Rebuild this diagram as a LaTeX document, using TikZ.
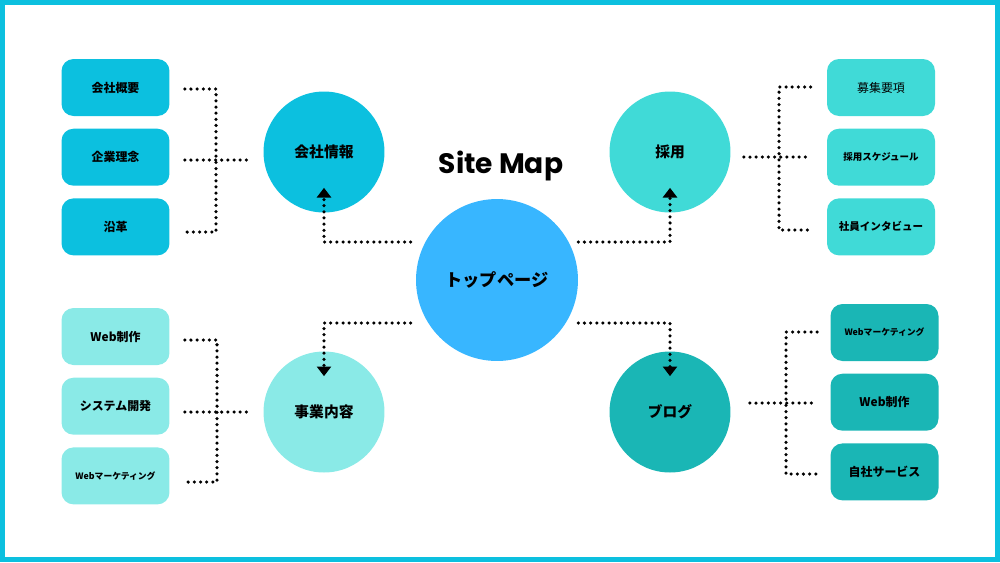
\documentclass[tikz,border=0pt]{standalone}
\usepackage{fontspec}
\setmainfont{Noto Sans CJK JP}
\newfontfamily\titlefont{Poppins}
\usetikzlibrary{arrows.meta,positioning,calc}
\definecolor{SkyBlue}{HTML}{38B6FF}
\definecolor{CyanBlue}{HTML}{0CC0DF}
\definecolor{Turquoise}{HTML}{40DAD7}
\definecolor{PaleAqua}{HTML}{8AEAE7}
\definecolor{DeepTeal}{HTML}{1AB6B5}

\begin{document}
\begin{tikzpicture}[x=0.02cm, y=-0.02cm,
  hub/.style={circle, fill=SkyBlue, minimum size=3.24cm, inner sep=0pt, font=\bfseries\fontsize{9.8}{11}\selectfont},
  topic/.style={circle, minimum size=2.42cm, inner sep=0pt, font=\bfseries\fontsize{8.4}{10}\selectfont},
  leaf/.style={rounded corners=0.24cm, minimum width=2.16cm, minimum height=1.14cm, inner sep=0pt, font=\bfseries\fontsize{6.8}{8}\selectfont},
  smallleaf/.style={font=\bfseries\fontsize{5}{6}\selectfont},
  dotline/.style={draw=black, line width=2pt, dash pattern=on 0pt off 3.5pt, line cap=round},
  arrow/.style={dotline, -{Triangle[width=8pt,length=5.5pt]}}
]
  \useasboundingbox (0,0) rectangle (1000,562);
  \draw[CyanBlue, line width=0.1cm] (2.5,2.5) rectangle (997.5,559.5);

  \node[font=\titlefont\bfseries\fontsize{16}{18}\selectfont] (title) at (501,166) {Site Map};

  \node[hub] (home) at (497,280) {トップページ};
  \node[topic, fill=CyanBlue] (info) at (324,152) {会社情報};
  \node[topic, fill=Turquoise] (recruit) at (670,152) {採用};
  \node[topic, fill=PaleAqua] (biz) at (324,412) {事業内容};
  \node[topic, fill=DeepTeal] (blog) at (670,412) {ブログ};

  \node[leaf, fill=CyanBlue] (info1) at (115.5,87.5) {会社概要};
  \node[leaf, fill=CyanBlue, below=0.24cm of info1] (info2) {企業理念};
  \node[leaf, fill=CyanBlue, below=0.24cm of info2] (info3) {沿革};

  \node[leaf, fill=Turquoise, font=\fontsize{6.8}{8}\selectfont] (rec1) at (881,87.5) {募集要項};
  \node[leaf, fill=Turquoise, below=0.24cm of rec1, font=\bfseries\fontsize{5.4}{6}\selectfont] (rec2) {採用スケジュール};
  \node[leaf, fill=Turquoise, below=0.24cm of rec2, font=\bfseries\fontsize{6}{7}\selectfont] (rec3) {社員インタビュー};

  \node[leaf, fill=PaleAqua] (biz1) at (115.5,336.5) {Web制作};
  \node[leaf, fill=PaleAqua, below=0.24cm of biz1] (biz2) {システム開発};
  \node[leaf, fill=PaleAqua, below=0.24cm of biz2, smallleaf] (biz3) {Webマーケティング};

  \node[leaf, fill=DeepTeal, smallleaf] (blog1) at (884.5,332.5) {Webマーケティング};
  \node[leaf, fill=DeepTeal, below=0.24cm of blog1] (blog2) {Web制作};
  \node[leaf, fill=DeepTeal, below=0.24cm of blog2] (blog3) {自社サービス};

  \coordinate (infoTop) at (216,89);
  \coordinate (infoMid) at (216,160);
  \coordinate (infoBot) at (216,232);
  \coordinate (recTop) at (779,87);
  \coordinate (recMid) at (779,157);
  \coordinate (recBot) at (779,230);
  \coordinate (bizTop) at (217,340);
  \coordinate (bizMid) at (217,412);
  \coordinate (bizBot) at (217,482);
  \coordinate (blogTop) at (786,332);
  \coordinate (blogMid) at (786,403);
  \coordinate (blogBot) at (786,474);

  \draw[dotline] ($(info1.east |- infoTop)+(15,0)$) -- (infoTop) -- (infoBot) -- ($(info3.east |- infoBot)+(15,0)$);
  \draw[dotline] ($(info2.east |- infoMid)+(15,0)$) -- ($(info.west |- infoMid)+(-12,0)$);

  \draw[dotline] ($(rec1.west |- recTop)+(-16,0)$) -- (recTop) -- (recBot) -- ($(rec3.west |- recBot)+(-16,0)$);
  \draw[dotline] ($(recruit.east |- recMid)+(13,0)$) -- ($(rec2.west |- recMid)+(-16,0)$);

  \draw[dotline] ($(biz1.east |- bizTop)+(15,0)$) -- (bizTop) -- (bizBot) -- ($(biz3.east |- bizBot)+(15,0)$);
  \draw[dotline] ($(biz2.east |- bizMid)+(15,0)$) -- ($(biz.west |- bizMid)+(-11,0)$);

  \draw[dotline] ($(blog1.west |- blogTop)+(-13,0)$) -- (blogTop) -- (blogBot) -- ($(blog3.west |- blogBot)+(-13,0)$);
  \draw[dotline] ($(blog.east |- blogMid)+(19,0)$) -- ($(blog2.west |- blogMid)+(-13,0)$);

  \draw[arrow] ($(home.west)+(-5,-38)$) -| ($(info.south)+(0,-25)$);
  \draw[arrow] ($(home.east)+(0,-38)$) -| ($(recruit.south)+(0,-25)$);
  \draw[arrow] ($(home.west)+(-5,43)$) -| ($(biz.north)+(0,25)$);
  \draw[arrow] ($(home.east)+(0,43)$) -| ($(blog.north)+(0,25)$);
\end{tikzpicture}
\end{document}
